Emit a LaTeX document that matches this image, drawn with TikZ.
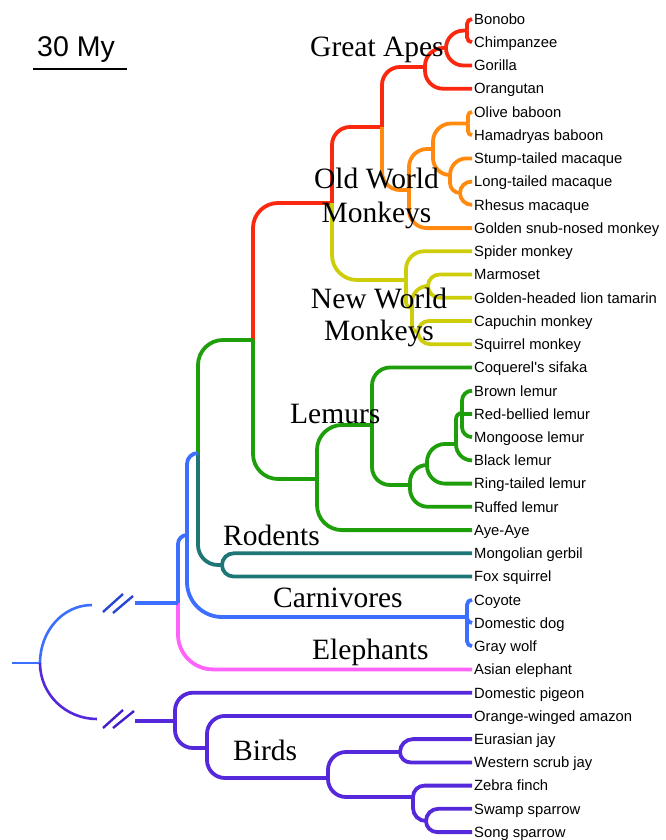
\documentclass[tikz,border=0pt]{standalone}
\usepackage{fontspec}
\setmainfont{Liberation Serif}
\newfontfamily\leaffont{Liberation Sans}
\usetikzlibrary{calc}
\definecolor{cRed}{RGB}{250,40,15}
\definecolor{cOrange}{RGB}{255,138,15}
\definecolor{cYellow}{RGB}{205,205,10}
\definecolor{cGreen}{RGB}{30,158,10}
\definecolor{cTeal}{RGB}{30,118,118}
\definecolor{cBlue}{RGB}{60,110,255}
\definecolor{cPink}{RGB}{255,100,250}
\definecolor{cPurple}{RGB}{85,40,220}
\definecolor{cBlueDk}{RGB}{40,70,210}
\definecolor{cPurpleDk}{RGB}{70,30,200}
\tikzset{
  branch/.style={line width=3.8pt},
  leaf/.style={anchor=west, inner xsep=2pt, inner ysep=0pt, text height=10.6pt, text depth=0pt,
    font=\leaffont\fontsize{14.8}{16}\selectfont},
  clade/.style={anchor=base west, inner sep=0pt, font=\fontsize{29.5}{32}\selectfont},
  cladec/.style={anchor=base, inner sep=0pt, font=\fontsize{29.5}{32}\selectfont},
  rootline/.style={line width=2.6pt},
  breakmark/.style={line width=2.4pt},
}
% branch from parent #3 to child #4 in colour #2, corner radius at most #1
\newcommand\br[4][18]{%
  \draw[branch,#2] let \p1=(#3), \p2=(#4),
    \n1={max(0.5,min(#1,abs(\y2-(\y1)),abs(\x2-(\x1))))} in
    [rounded corners=\n1] (\p1) |- (\p2);}

\begin{document}
\begin{tikzpicture}[x=1pt,y=-1pt]
\useasboundingbox (0,0) rectangle (666,840);

% ---------------- leaves
\node[leaf] (bonobo)   at (472,19.0)  {Bonobo};
\node[leaf] (chimp)    at (472,42.2)  {Chimpanzee};
\node[leaf] (gorilla)  at (472,65.5)  {Gorilla};
\node[leaf] (orang)    at (472,88.7)  {Orangutan};
\node[leaf] (olive)    at (472,111.9) {Olive baboon};
\node[leaf] (hamad)    at (472,135.2) {Hamadryas baboon};
\node[leaf] (stump)    at (472,158.4) {Stump-tailed macaque};
\node[leaf] (longt)    at (472,181.6) {Long-tailed macaque};
\node[leaf] (rhesus)   at (472,204.8) {Rhesus macaque};
\node[leaf] (snub)     at (472,228.1) {Golden snub-nosed monkey};
\node[leaf] (spider)   at (472,251.3) {Spider monkey};
\node[leaf] (marmo)    at (472,274.5) {Marmoset};
\node[leaf] (tamarin)  at (472,297.8) {Golden-headed lion tamarin};
\node[leaf] (capu)     at (472,321.0) {Capuchin monkey};
\node[leaf] (squirrel) at (472,344.2) {Squirrel monkey};
\node[leaf] (sifaka)   at (472,367.5) {Coquerel\textquotesingle s sifaka};
\node[leaf] (brownl)   at (472,390.7) {Brown lemur};
\node[leaf] (redbel)   at (472,413.9) {Red-bellied lemur};
\node[leaf] (mongoose) at (472,437.1) {Mongoose lemur};
\node[leaf] (blackl)   at (472,460.4) {Black lemur};
\node[leaf] (ringt)    at (472,483.6) {Ring-tailed lemur};
\node[leaf] (ruffed)   at (472,506.8) {Ruffed lemur};
\node[leaf] (ayeaye)   at (472,530.1) {Aye-Aye};
\node[leaf] (gerbil)   at (472,553.3) {Mongolian gerbil};
\node[leaf] (foxsq)    at (472,576.5) {Fox squirrel};
\node[leaf] (coyote)   at (472,599.8) {Coyote};
\node[leaf] (dog)      at (472,623.0) {Domestic dog};
\node[leaf] (wolf)     at (472,646.2) {Gray wolf};
\node[leaf] (eleph)    at (472,669.4) {Asian elephant};
\node[leaf] (pigeon)   at (472,692.7) {Domestic pigeon};
\node[leaf] (amazon)   at (472,715.9) {Orange-winged amazon};
\node[leaf] (eurjay)   at (472,739.1) {Eurasian jay};
\node[leaf] (wsjay)    at (472,762.4) {Western scrub jay};
\node[leaf] (zebra)    at (472,785.6) {Zebra finch};
\node[leaf] (swamp)    at (472,808.8) {Swamp sparrow};
\node[leaf] (song)     at (472,832.1) {Song sparrow};

% ---------------- internal nodes
\coordinate (BC) at (467,30.6);
\coordinate (BCG) at (446,48);
\coordinate (GA) at (425,67);
\coordinate (Bab) at (468,123.5);
\coordinate (LR) at (460,193);
\coordinate (Mac) at (450,175);
\coordinate (Pap) at (433,149);
\coordinate (OWM) at (409,190);
\coordinate (Cat) at (382,127);
\coordinate (MG) at (428,286);
\coordinate (CS) at (418,332);
\coordinate (N1) at (412,308);
\coordinate (N0) at (406,280);
\coordinate (Anth) at (332,203);
\coordinate (Prim) at (253,340);
\coordinate (E2) at (462,413);
\coordinate (Eul) at (456,444);
\coordinate (ELc) at (427,465);
\coordinate (Lmd) at (410,485);
\coordinate (LemF) at (372,425);
\coordinate (Strep) at (317,479);
\coordinate (Euarch) at (198,453);
\coordinate (Rod) at (222,565);
\coordinate (Boreo) at (187,535);
\coordinate (Carn) at (467,617);
\coordinate (Euth) at (178,603);
\coordinate (Aves) at (175,721);
\coordinate (Aves2) at (207,748);
\coordinate (Pass) at (328,778);
\coordinate (Corv) at (400,752);
\coordinate (Fin) at (413,797);
\coordinate (Spar) at (426,821);
\coordinate (root) at (40,663);
\coordinate (rootin) at (12,663);
\coordinate (cutA) at (92,605);
\coordinate (cutB) at (97,719);
\coordinate (restA) at (135,603);
\coordinate (restB) at (135,721);

% ---------------- great apes
\br{cRed}{BC}{bonobo.west}
\br{cRed}{BC}{chimp.west}
\br{cRed}{BCG}{BC}
\br{cRed}{BCG}{gorilla.west}
\br{cRed}{GA}{BCG}
\br{cRed}{GA}{orang.west}
\br{cRed}{Cat}{GA}
\br{cRed}{Anth}{Cat}
\br[25]{cRed}{Prim}{Anth}
% old world monkeys
\br{cOrange}{Bab}{olive.west}
\br{cOrange}{Bab}{hamad.west}
\br{cOrange}{LR}{longt.west}
\br{cOrange}{LR}{rhesus.west}
\br{cOrange}{Mac}{stump.west}
\br{cOrange}{Mac}{LR}
\br{cOrange}{Pap}{Bab}
\br{cOrange}{Pap}{Mac}
\br{cOrange}{OWM}{Pap}
\br{cOrange}{OWM}{snub.west}
\br{cOrange}{Cat}{OWM}
% new world monkeys
\br{cYellow}{MG}{marmo.west}
\br{cYellow}{MG}{tamarin.west}
\br{cYellow}{CS}{capu.west}
\br{cYellow}{CS}{squirrel.west}
\br{cYellow}{N1}{MG}
\br{cYellow}{N1}{CS}
\br{cYellow}{N0}{spider.west}
\br{cYellow}{N0}{N1}
\br[25]{cYellow}{Anth}{N0}
% lemurs
\br{cGreen}{E2}{brownl.west}
\br{cGreen}{E2}{redbel.west}
\br{cGreen}{E2}{mongoose.west}
\br{cGreen}{Eul}{E2}
\br{cGreen}{Eul}{blackl.west}
\br{cGreen}{ELc}{Eul}
\br{cGreen}{ELc}{ringt.west}
\br{cGreen}{Lmd}{ELc}
\br{cGreen}{Lmd}{ruffed.west}
\br{cGreen}{LemF}{sifaka.west}
\br{cGreen}{LemF}{Lmd}
\br[25]{cGreen}{Strep}{LemF}
\br[25]{cGreen}{Strep}{ayeaye.west}
\br[25]{cGreen}{Prim}{Strep}
\br[25]{cGreen}{Euarch}{Prim}
% rodents
\br[20]{cTeal}{Rod}{gerbil.west}
\br[20]{cTeal}{Rod}{foxsq.west}
\br[20]{cTeal}{Euarch}{Rod}
% carnivores and mammal stem
\br{cBlue}{Carn}{coyote.west}
\br{cBlue}{Carn}{dog.west}
\br{cBlue}{Carn}{wolf.west}
\br[35]{cBlue}{Boreo}{Carn}
\br{cBlue}{Boreo}{Euarch}
\br{cBlue}{Euth}{Boreo}
\br[35]{cPink}{Euth}{eleph.west}
\draw[branch,cBlue] (restA) -- (Euth);
% birds
\br{cPurple}{Spar}{swamp.west}
\br{cPurple}{Spar}{song.west}
\br{cPurple}{Fin}{zebra.west}
\br{cPurple}{Fin}{Spar}
\br{cPurple}{Corv}{eurjay.west}
\br{cPurple}{Corv}{wsjay.west}
\br{cPurple}{Pass}{Corv}
\br{cPurple}{Pass}{Fin}
\br{cPurple}{Aves2}{amazon.west}
\br{cPurple}{Aves2}{Pass}
\br{cPurple}{Aves}{pigeon.west}
\br{cPurple}{Aves}{Aves2}
\draw[branch,cPurple] (restB) -- (Aves);

% ---------------- root
\draw[rootline,cBlue] (rootin) -- (root);
\draw[rootline,cBlue] (root) .. controls (40,631) and (63,605) .. (cutA);
\draw[rootline,cPurple] (root) .. controls (40,694.5) and (66,719) .. (cutB);
% break marks
\draw[breakmark,cBlueDk] (103,612) -- (123,594);
\draw[breakmark,cBlueDk] (113,613) -- (133,596);
\draw[breakmark,cPurpleDk] (103,728) -- (123,710);
\draw[breakmark,cPurpleDk] (113,728) -- (134,711);

% ---------------- clade labels
\node[clade]  (lGA)   at (310,57)    {Great Apes};
\node[cladec] (lOWM1) at (376.5,188) {Old World};
\node[cladec] (lOWM2) at (376.5,222) {Monkeys};
\node[cladec] (lNWM1) at (379,308)   {New World};
\node[cladec] (lNWM2) at (379,340)   {Monkeys};
\node[clade]  (lLem)  at (290,423)   {Lemurs};
\node[clade]  (lRod)  at (223,545)   {Rodents};
\node[clade]  (lCarn) at (273,607)   {Carnivores};
\node[clade]  (lEle)  at (312,659)   {Elephants};
\node[clade]  (lBird) at (233,760)   {Birds};

% ---------------- scale bar
\node[anchor=base west, inner sep=0pt, font=\leaffont\fontsize{28.5}{30}\selectfont] (scalelbl) at (37,57) {30 My};
\coordinate (barL) at (33,69);
\coordinate (barR) at (127,69);
\draw[line width=2.6pt] (barL) -- (barR);
\end{tikzpicture}
\end{document}
